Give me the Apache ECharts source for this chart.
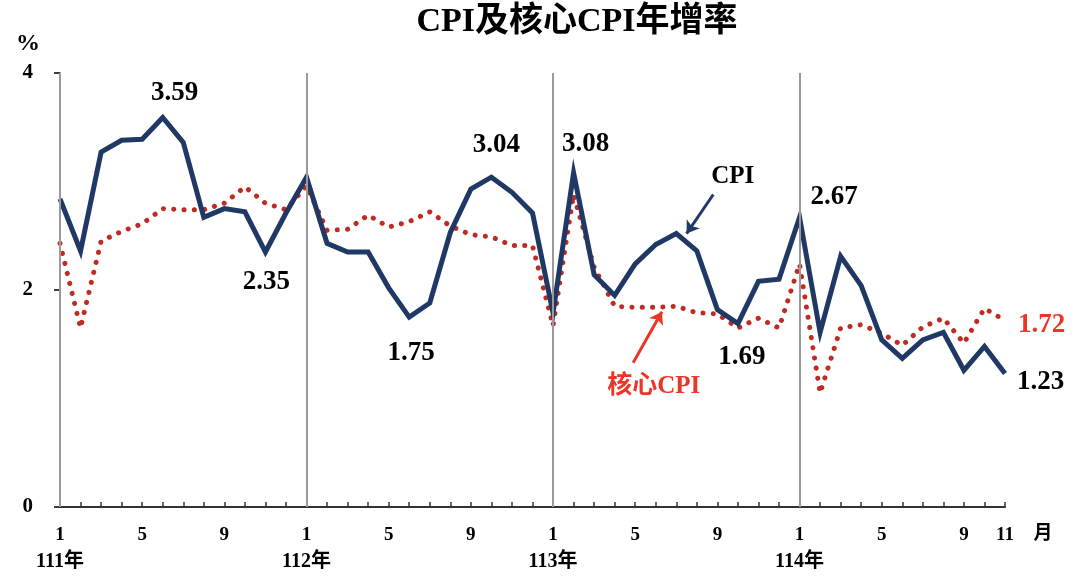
<!DOCTYPE html>
<html>
<head>
    <meta charset="UTF-8">
    <title>CPI及核心CPI年增率</title>
    <style type="text/css">
        html, body { margin:0; padding:0; background:#fff; }
        #main1 { width:1082px; height:582px; }
    </style>
</head>
<body>
<div id="main1"></div>
<script type="text/javascript" src="https://cdn.jsdelivr.net/npm/echarts@6/dist/echarts.min.js"></script>
<script type="text/javascript">
    // 111年1月 ~ 114年11月
    var years = ['111年', '112年', '113年', '114年'];
    var monthTicks = [1, 5, 9];
    var cpi = [
        2.84, 2.36, 3.27, 3.38, 3.39, 3.59, 3.36, 2.67, 2.75, 2.72, 2.35, 2.71,
        3.04, 2.43, 2.35, 2.35, 2.02, 1.75, 1.88, 2.53, 2.93, 3.04, 2.90, 2.71,
        1.79, 3.08, 2.14, 1.95, 2.24, 2.42, 2.52, 2.36, 1.82, 1.69, 2.08, 2.10,
        2.67, 1.61, 2.31, 2.04, 1.54, 1.37, 1.54, 1.61, 1.26, 1.48, 1.23
    ];
    var coreCpi = [
        2.43, 1.65, 2.45, 2.54, 2.61, 2.75, 2.74, 2.74, 2.80, 2.95, 2.80, 2.74,
        2.96, 2.55, 2.56, 2.69, 2.58, 2.63, 2.72, 2.59, 2.51, 2.49, 2.41, 2.41,
        1.67, 2.88, 2.21, 1.85, 1.84, 1.84, 1.85, 1.79, 1.78, 1.65, 1.74, 1.65,
        2.24, 1.05, 1.65, 1.68, 1.60, 1.49, 1.66, 1.74, 1.51, 1.83, 1.72
    ];

    var serif = '"Liberation Serif", "Noto Sans CJK TC", serif';
    var navy = '#1f3864';
    var darkRed = '#bf2a22';
    var red = '#ec3526';
    var lastIdx = cpi.length - 1;

    // 標示數值的點
    var cpiLabels = {
        5: {position: 'top', distance: 11, offset: [12, 0]},
        10: {position: 'bottom', distance: 17, offset: [1, 0]},
        17: {position: 'bottom', distance: 22, offset: [2, 0]},
        21: {position: 'top', distance: 19, offset: [5, 0]},
        25: {position: 'top', distance: 15, offset: [12, 0]},
        33: {position: 'bottom', distance: 20, offset: [4, 0]},
        36: {position: 'right', distance: 11, offset: [0, -20]}
    };
    cpiLabels[lastIdx] = {position: 'right', distance: 12, offset: [0, 8]};

    var cpiData = cpi.map(function (v, i) {
        var item = {value: [i, v]};
        if (cpiLabels[i]) {
            item.label = Object.assign({show: true}, cpiLabels[i]);
        }
        return item;
    });
    var coreData = coreCpi.map(function (v, i) {
        var item = {value: [i, v]};
        if (i === lastIdx) {
            item.label = {show: true, position: 'right', distance: 13, offset: [0, 5], color: red};
        }
        return item;
    });

    function fmt2(p) { return p.value[1].toFixed(2); }

    var myChart1 = echarts.init(document.getElementById('main1'));
    var option1 = {
        animation: false,
        grid: {left: 60, right: 77, top: 73, bottom: 75},
        graphic: [
            {type: 'text', style: {text: 'CPI及核心CPI年增率', x: 577, y: 22, font: 'bold 34px ' + serif, fill: '#000', textAlign: 'center', textVerticalAlign: 'middle'}},
            {type: 'text', style: {text: '%', x: 28, y: 44, font: 'bold 24px ' + serif, fill: '#000', textAlign: 'center', textVerticalAlign: 'middle'}},
            {type: 'text', style: {text: '月', x: 1043, y: 534, font: 'bold 19px ' + serif, fill: '#000', textAlign: 'center', textVerticalAlign: 'middle'}}
        ],
        xAxis: {
            type: 'value',
            min: 0,
            max: lastIdx,
            interval: 1,
            splitLine: {show: false},
            axisLine: {lineStyle: {color: '#333', width: 2}},
            axisTick: {inside: true, length: 5, lineStyle: {color: '#333', width: 1.5}},
            axisLabel: {
                margin: 15,
                color: '#000',
                fontFamily: serif,
                fontWeight: 'bold',
                fontSize: 19,
                lineHeight: 26,
                rich: {
                    y: {fontFamily: serif, fontWeight: 'bold', fontSize: 20, lineHeight: 28, color: '#000'}
                },
                formatter: function (val) {
                    var m = val % 12 + 1;
                    if (val === lastIdx) return String(m);
                    if (monthTicks.indexOf(m) < 0) return '';
                    if (m === 1) return '1\n{y|' + years[Math.floor(val / 12)] + '}';
                    return String(m);
                }
            }
        },
        yAxis: {
            type: 'value',
            min: 0,
            max: 4,
            interval: 2,
            splitLine: {show: false},
            axisLine: {show: true, lineStyle: {color: '#999', width: 2}},
            axisTick: {show: true, length: 6, lineStyle: {color: '#000', width: 1.5}},
            axisLabel: {margin: 27, color: '#000', fontFamily: serif, fontWeight: 'bold', fontSize: 21}
        },
        series: [
            {
                // 年度分隔線
                type: 'line',
                data: [],
                z: 1,
                silent: true,
                markLine: {
                    symbol: 'none',
                    silent: true,
                    label: {show: false},
                    lineStyle: {color: '#9a9a9a', width: 2, type: 'solid'},
                    data: years.map(function (y, k) { return {xAxis: k * 12}; })
                }
            },
            {
                name: '核心CPI',
                type: 'line',
                data: coreData,
                z: 2,
                symbol: 'circle',
                symbolSize: 0,
                showSymbol: true,
                showAllSymbol: true,
                itemStyle: {color: darkRed},
                lineStyle: {color: darkRed, width: 5, type: [0.1, 10.2], cap: 'round'},
                label: {fontFamily: serif, fontWeight: 'bold', fontSize: 27, formatter: fmt2}
            },
            {
                name: 'CPI',
                type: 'line',
                data: cpiData,
                z: 3,
                symbol: 'circle',
                symbolSize: 0,
                showSymbol: true,
                showAllSymbol: true,
                itemStyle: {color: navy},
                lineStyle: {color: navy, width: 5, join: 'miter'},
                label: {color: '#000', fontFamily: serif, fontWeight: 'bold', fontSize: 27, formatter: fmt2},
                markLine: {
                    symbol: ['none', 'arrow'],
                    symbolSize: 12,
                    silent: true,
                    label: {show: false},
                    data: [
                        [{coord: [31.8, 2.88], lineStyle: {color: navy, width: 3, type: 'solid'}}, {coord: [30.5, 2.52]}],
                        [{coord: [27.9, 1.33], lineStyle: {color: red, width: 3, type: 'solid'}}, {coord: [29.3, 1.80]}]
                    ]
                },
                markPoint: {
                    symbol: 'circle',
                    symbolSize: 0,
                    silent: true,
                    data: [
                        {coord: [32.75, 3.05], label: {show: true, position: 'inside', formatter: 'CPI', color: '#000', fontFamily: serif, fontWeight: 'bold', fontSize: 25}},
                        {coord: [28.9, 1.11], label: {show: true, position: 'inside', formatter: '核心CPI', color: red, fontFamily: serif, fontWeight: 'bold', fontSize: 25}}
                    ]
                }
            }
        ]
    };
    myChart1.setOption(option1);
</script>
</body>
</html>
